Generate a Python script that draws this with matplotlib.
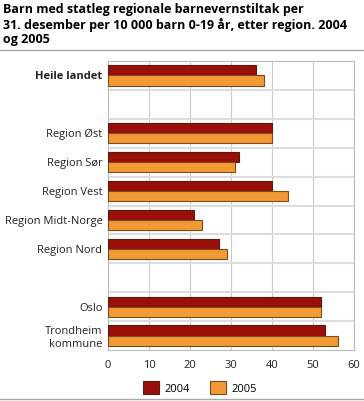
import numpy as np
import matplotlib.pyplot as plt

plt.rcParams['font.family'] = ['Open Sans', 'DejaVu Sans']

# data
regions = ['Heile landet', '', 'Region Øst', 'Region Sør', 'Region Vest',
           'Region Midt-Norge', 'Region Nord', '', 'Oslo', 'Trondheim\nkommune']
v2004 = [36, np.nan, 40, 32, 40, 21, 27, np.nan, 52, 53]
v2005 = [38, np.nan, 40, 31, 44, 23, 29, np.nan, 52, 56]
years = ['2004', '2005']
xticks = [0, 10, 20, 30, 40, 50, 60]

c2004 = '#9a0f0a'
c2005 = '#f49a34'

fig = plt.figure(figsize=(3.64, 4.01), dpi=100)
ax = fig.add_axes([108/364, 1 - 350/401, 246/364, 289/401])

n = len(regions)
y = np.arange(n)
h = 0.35
ax.barh(y - h/2, v2004, height=h, color=c2004, edgecolor='#5a1a10', linewidth=0.8, label=years[0], zorder=3)
ax.barh(y + h/2, v2005, height=h, color=c2005, edgecolor='#7a4a20', linewidth=0.8, label=years[1], zorder=3)

ax.set_ylim(n - 0.5, -0.5)
ax.set_xlim(0, 60)
ax.set_xticks(xticks)
ax.set_yticks(y)
ax.set_yticklabels(regions)
ax.tick_params(length=0, labelsize=8, colors='#222222', pad=4)
ax.tick_params(axis='x', pad=7)
ax.get_yticklabels()[0].set_fontweight('bold')

for xv in xticks[1:-1]:
    ax.axvline(xv, color='#cccccc', linewidth=0.8, zorder=1)
for yv in np.arange(0.5, n - 0.5, 1):
    ax.axhline(yv, color='#dddddd', linewidth=1.5, zorder=1)

for s in ax.spines.values():
    s.set_color('#bbbbbb')
    s.set_linewidth(0.8)

fig.text(3/364, 1 - 3/401, 'Barn med statleg regionale barnevernstiltak per\n31. desember per 10 000 barn 0-19 år, etter region. 2004\nog 2005',
         fontsize=9, fontweight='bold', va='top', ha='left', linespacing=1.15)
fig.add_artist(plt.Line2D([0, 1], [1 - 50/401, 1 - 50/401], color='#aaaaaa', linewidth=1))
fig.add_artist(plt.Line2D([0, 1], [1 - 399/401, 1 - 399/401], color='#aaaaaa', linewidth=1))

leg = fig.legend(loc='center', bbox_to_anchor=(200/364, 1 - 388/401), ncol=2, frameon=False,
                 fontsize=8, handlelength=1.4, handleheight=1.4, columnspacing=1.8, handletextpad=0.5)

fig.savefig('out.png', dpi=100)
